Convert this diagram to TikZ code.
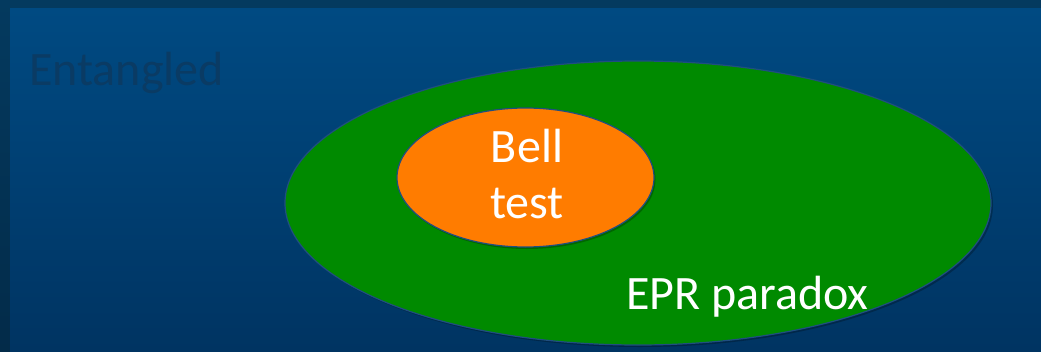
\documentclass[tikz,border=0pt]{standalone}
\usepackage{fontspec}
\setmainfont{Carlito}
\definecolor{frameblue}{HTML}{043A5F}
\definecolor{framedark}{HTML}{032B49}
\definecolor{bgtop}{HTML}{004A82}
\definecolor{bgbot}{HTML}{003462}
\definecolor{epgreen}{HTML}{008A00}
\definecolor{bellorange}{HTML}{FF7C00}
\definecolor{edgeblue}{HTML}{1F4E80}
\definecolor{dimtext}{HTML}{0A3B64}
\tikzset{
  setbox/.style={draw=edgeblue, line width=1.2pt},
  shadowset/.style={fill=black, opacity=0.25},
  bigtext/.style={font=\fontsize{48}{58}\selectfont, inner sep=0pt},
}
\begin{document}
\begin{tikzpicture}[x=1pt, y=-1pt]
  % background and frame
  \fill[top color=frameblue, bottom color=framedark] (0,0) rectangle (1041,351);
  \fill[top color=bgtop, bottom color=bgbot] (10,8) rectangle (1041,351);
  \useasboundingbox (0,0) rectangle (1041,351);
  % title
  \node[bigtext, text=dimtext, anchor=base west] (ent) at (29,85) {Entangled};
  % EPR paradox set
  \fill[shadowset] (640,205) ellipse [x radius=353, y radius=142];
  \filldraw[setbox, fill=epgreen] (638,203) ellipse [x radius=353, y radius=142];
  % Bell test set
  \fill[shadowset] (527,179.5) ellipse [x radius=128.5, y radius=69.5];
  \filldraw[setbox, fill=bellorange] (525.5,177.5) ellipse [x radius=128.5, y radius=69.5];
  % labels
  \node[bigtext, text=white, anchor=base] (bell) at (527,162) {Bell};
  \node[bigtext, text=white, anchor=base] (test) at (527,218) {test};
  \node[bigtext, text=white, anchor=base west] (eprlabel) at (626,309) {EPR paradox};
\end{tikzpicture}
\end{document}
